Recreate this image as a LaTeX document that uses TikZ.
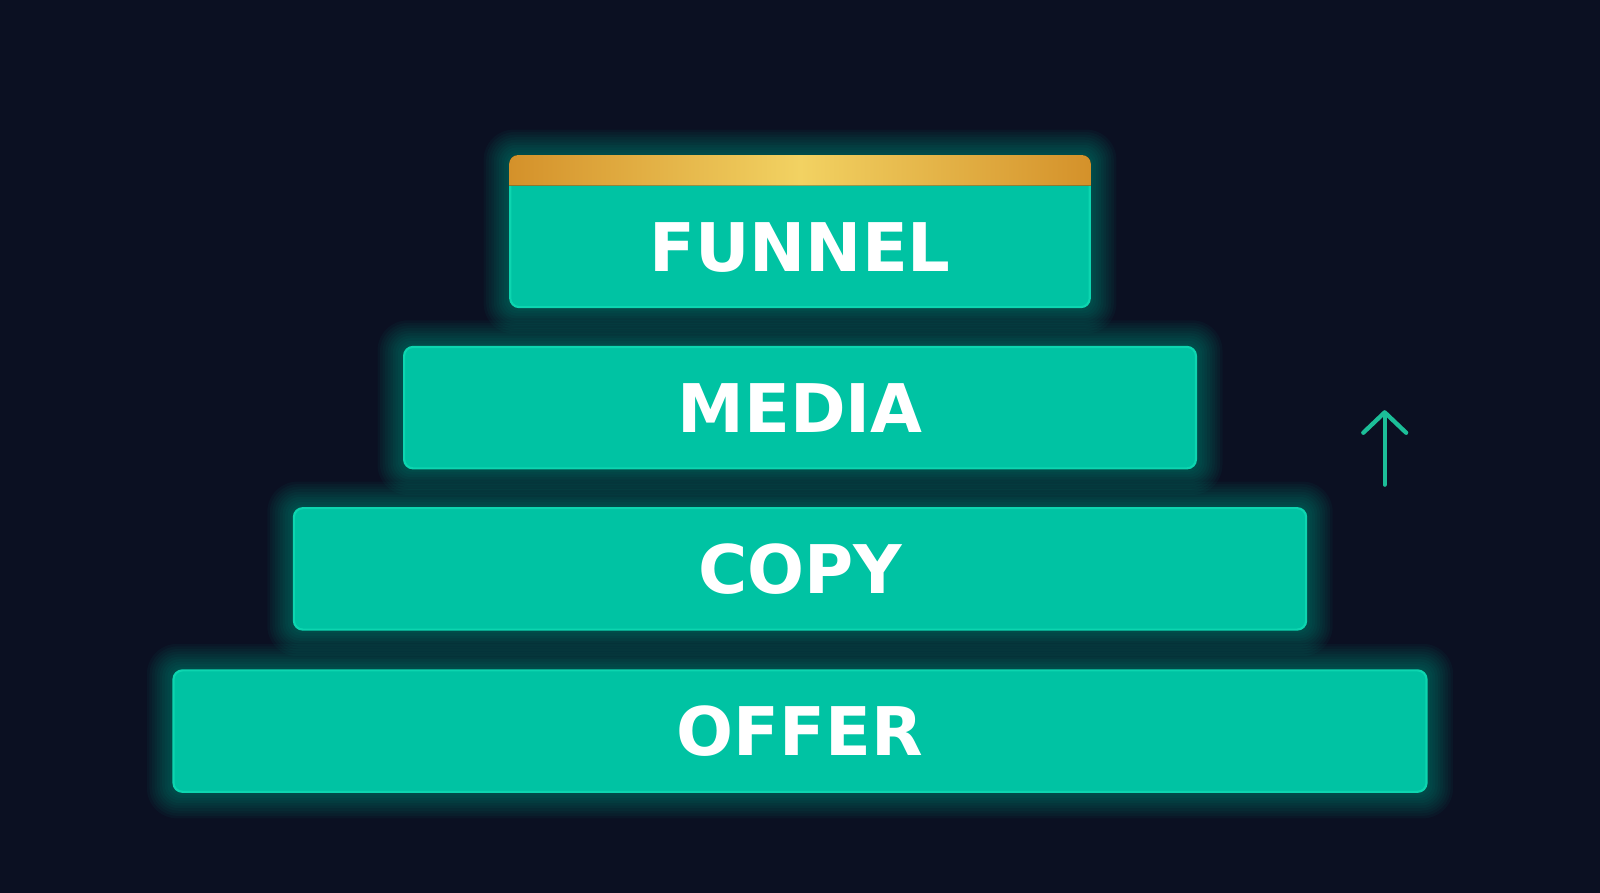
\documentclass[tikz,border=0pt]{standalone}
\usepackage{fontspec}
\setmainfont{DejaVu Sans}
\usetikzlibrary{calc, arrows.meta, positioning, backgrounds}
\definecolor{bgNavy}{HTML}{0B1022}
\definecolor{mintFill}{HTML}{00C3A3}
\definecolor{mintEdge}{HTML}{12DDB6}
\definecolor{mintGlow}{HTML}{00E0B4}
\definecolor{goldDark}{HTML}{D4912A}
\definecolor{goldLight}{HTML}{F2D262}
\definecolor{arrowMint}{HTML}{1CBE98}

\tikzset{
    layer/.style={rectangle, rounded corners=2.5pt, fill=mintFill, draw=mintEdge!70!mintFill, line width=0.6pt,
        text=white, font=\bfseries\fontsize{18.7}{20}\selectfont, minimum height=1.19cm, inner sep=0pt},
    glow/.style={fill=mintGlow, opacity=0.035},
    rise/.style={arrowMint, line width=1.2pt, line cap=round, -{Straight Barb[length=0.2cm, width=0.42cm, round]}}
}

\begin{document}
\begin{tikzpicture}
            \useasboundingbox (0,0) rectangle (15.68,8.75);
            % the four layers
            \node[layer, minimum width=12.28cm] (L-offer) at (7.84,1.585) {OFFER};
            \node[layer, minimum width=9.92cm] (L-copy) at (7.84,3.175) {COPY};
            \node[layer, minimum width=7.76cm] (L-media) at (7.84,4.755) {MEDIA};
            \node[layer, minimum width=5.68cm, minimum height=1.48cm, text height=0.78cm, text depth=0pt] (L-funnel) at (7.84,6.48) {FUNNEL};
            % gold cap on top
            \fill[left color=goldDark, right color=goldDark, middle color=goldLight]
                ($(L-funnel.north west)+(0,-0.3)$) [rounded corners=2.5pt] -- (L-funnel.north west)
                -- (L-funnel.north east) [sharp corners] -- ($(L-funnel.north east)+(0,-0.3)$) -- cycle;
            % glow behind the layers
            \begin{scope}[on background layer]
                \fill[bgNavy] (0,0) rectangle (15.68,8.75);
                \foreach \n in {offer,copy,media,funnel} {
                    \foreach \g in {1,...,10} {
                        \fill[glow, rounded corners=2.5pt+\g*0.6pt]
                            ($(L-\n.south west)+(-\g*0.025,-\g*0.025)$) rectangle ($(L-\n.north east)+(\g*0.025,\g*0.025)$);
                    }
                }
            \end{scope}
            % arrow on the right
            \coordinate (A-low) at (13.57,4.0);
            \coordinate (A-high) at (13.57,4.73);
            \draw[rise] (A-low) -- (A-high);
        \end{tikzpicture}
\end{document}
